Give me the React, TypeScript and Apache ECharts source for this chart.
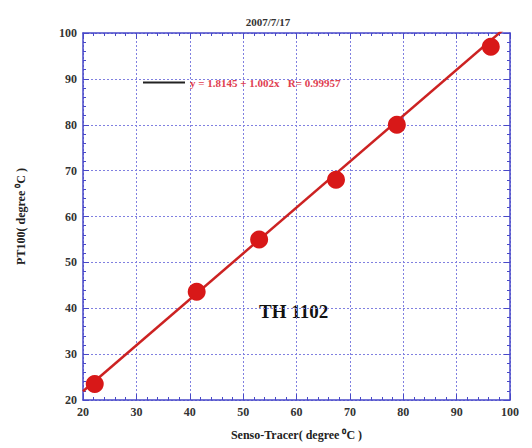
import React, { useEffect, useRef } from "react";
import * as echarts from "echarts";

const titleText = "2007/7/17";
const xName = "Senso-Tracer( degree \u2070C )";
const yName = "PT100( degree \u2070C )";
const fitLabel = "y = 1.8145 + 1.002x   R= 0.99957";
const sensorLabel = "TH 1102";

const tracerValues = [22.2, 41.3, 53.0, 67.4, 78.8, 96.4];
const pt100Values = [23.5, 43.6, 55.0, 68.0, 80.0, 97.0];
const fitX = [20, 100];
const fitY = [21.9, 102.0];

const serif = "Liberation Serif";
const axisBlue = "#4848c8";

export default function App() {
  const ref = useRef<HTMLDivElement>(null);
  useEffect(() => {
    if (!ref.current) return;
    const chart = echarts.init(ref.current, null, { renderer: "svg" });
    const axisCommon = {
      type: "value" as const,
      min: 20,
      max: 100,
      interval: 10,
      axisLine: { show: true, onZero: false, lineStyle: { color: axisBlue, width: 1.5 } },
      axisTick: { show: true, inside: true, length: 6, lineStyle: { color: axisBlue } },
      minorTick: { show: true, splitNumber: 5, length: 3, lineStyle: { color: axisBlue } },
    };
    chart.setOption({
      animation: false,
      backgroundColor: "#ffffff",
      title: {
        text: titleText,
        left: 263,
        top: 11,
        textAlign: "center",
        textStyle: { fontFamily: serif, fontSize: 11, fontWeight: "bold", color: "#333" },
      },
      grid: { left: 83, right: 22, top: 33, bottom: 48, show: true, backgroundColor: "#fff", borderWidth: 0 },
      legend: {
        left: 138,
        top: 72,
        icon: "rect",
        itemWidth: 42,
        itemHeight: 2,
        itemGap: 0,
        data: [{ name: fitLabel, itemStyle: { color: "#222" } }],
        textStyle: { fontFamily: serif, fontSize: 11, fontWeight: "bold", color: "#e04050" },
      },
      xAxis: [
        {
          ...axisCommon,
          position: "bottom",
          name: xName,
          nameLocation: "middle",
          nameGap: 29,
          nameTextStyle: { fontFamily: serif, fontSize: 12, fontWeight: "bold", color: "#222" },
          axisLabel: { fontFamily: serif, fontSize: 12, fontWeight: "bold", color: "#333", margin: 6 },
          splitLine: { show: true, lineStyle: { color: "#8080e0", type: [2, 2], width: 1 } },
        },
        {
          ...axisCommon,
          position: "top",
          axisLabel: { show: false },
          splitLine: { show: false },
        },
      ],
      yAxis: [
        {
          ...axisCommon,
          position: "left",
          name: yName,
          nameLocation: "middle",
          nameGap: 56,
          nameRotate: 90,
          nameTextStyle: { fontFamily: serif, fontSize: 12, fontWeight: "bold", color: "#222" },
          axisLabel: { fontFamily: serif, fontSize: 12, fontWeight: "bold", color: "#333", margin: 6 },
          splitLine: { show: true, lineStyle: { color: "#8080e0", type: [2, 2], width: 1 } },
        },
        {
          ...axisCommon,
          position: "right",
          axisLabel: { show: false },
          splitLine: { show: false },
        },
      ],
      series: [
        {
          name: fitLabel,
          type: "line",
          data: fitX.map((x, i) => [x, fitY[i]]),
          showSymbol: false,
          clip: true,
          lineStyle: { color: "#cc2222", width: 2.5 },
          itemStyle: { color: "#cc2222" },
          z: 2,
        },
        {
          name: "points",
          type: "scatter",
          data: tracerValues.map((x, i) => [x, pt100Values[i]]),
          symbol: "circle",
          symbolSize: 18,
          itemStyle: { color: "#d81818", opacity: 1 },
          z: 3,
        },
      ],
      graphic: [
        {
          type: "text",
          left: 259,
          top: 302,
          style: {
            text: sensorLabel,
            font: `bold 19px "${serif}"`,
            fill: "#111",
          },
        },
      ],
    });
    return () => chart.dispose();
  }, []);
  return <div ref={ref} style={{ width: 532, height: 448, position: "absolute", left: 0, top: 0 }} />;
}
